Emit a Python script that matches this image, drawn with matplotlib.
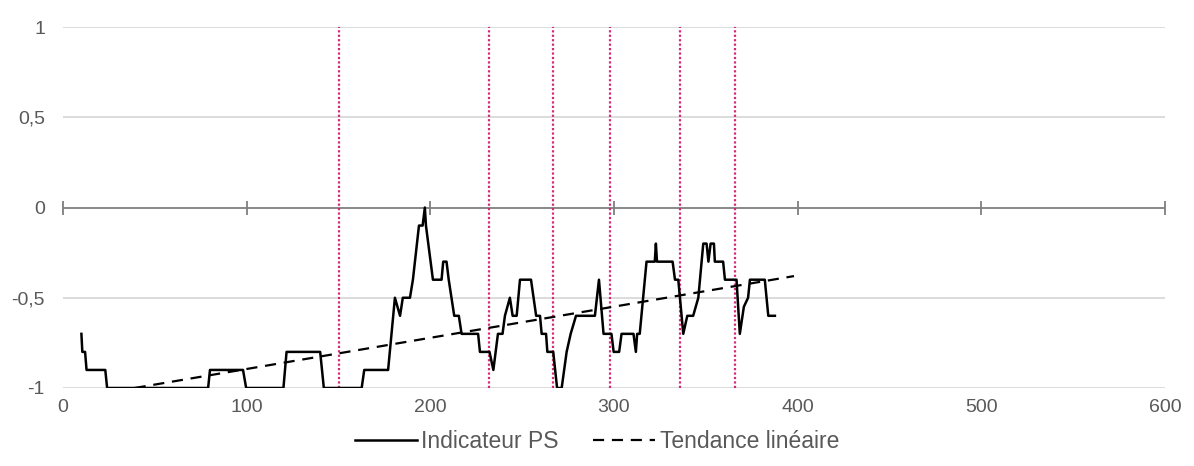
import matplotlib
matplotlib.use("Agg")
import matplotlib.pyplot as plt
from matplotlib.ticker import FuncFormatter

plt.rcParams['font.family'] = ['Liberation Sans', 'DejaVu Sans']

# PS indicator (vertices of the line)
ps_x = [10, 10.5, 12, 12.8, 23, 24, 79, 80, 98, 99.7, 120, 121.7, 140, 142,
        162.6, 164, 177, 180.7, 183.5, 185, 188.9, 190.5, 193.8, 195.8, 197, 197.6,
        201.4, 206.1, 207, 208.8, 210, 213, 215.5, 217, 226, 227, 232.2, 234.3,
        236.8, 239.3, 240.6, 243.3, 244.8, 247, 248.8, 254.8, 257.6, 259.7, 260.6,
        263, 263.7, 266.9, 269, 271.5, 274.2, 276.4, 279.3, 289.6, 291.8, 294.3,
        298.6, 299.8, 302.8, 304.1, 310.6, 311.9, 312.6, 314, 317.7, 322.2, 322.8,
        323.4, 331.9, 333.2, 335, 337.7, 339.9, 343.1, 345.9, 348.6, 350.4, 351.4,
        352.6, 354.4, 354.9, 359.4, 360.4, 366.7, 368.5, 370.7, 373, 374, 382.1,
        384, 387.6]
ps_y = [-0.7, -0.8, -0.8, -0.9, -0.9, -1.0, -1.0, -0.9, -0.9, -1.0, -1.0, -0.8, -0.8, -1.0,
        -1.0, -0.9, -0.9, -0.5, -0.6, -0.5, -0.5, -0.4, -0.1, -0.1, 0.0, -0.1,
        -0.4, -0.4, -0.3, -0.3, -0.4, -0.6, -0.6, -0.7, -0.7, -0.8, -0.8, -0.9,
        -0.7, -0.7, -0.6, -0.5, -0.6, -0.6, -0.4, -0.4, -0.6, -0.6, -0.7,
        -0.7, -0.8, -0.8, -1.0, -1.0, -0.8, -0.7, -0.6, -0.6, -0.4, -0.7,
        -0.7, -0.8, -0.8, -0.7, -0.7, -0.8, -0.7, -0.7, -0.3, -0.3, -0.2,
        -0.3, -0.3, -0.4, -0.4, -0.7, -0.6, -0.6, -0.5, -0.2, -0.2, -0.3,
        -0.2, -0.2, -0.3, -0.3, -0.4, -0.4, -0.7, -0.55, -0.5, -0.4, -0.4,
        -0.6, -0.6]

# linear trend endpoints
trend_x = [39, 398]
trend_y = [-1.0, -0.38]

# vertical markers
events = [150, 232, 267, 298, 336, 366]

xticks = [0, 100, 200, 300, 400, 500, 600]
yticks = [-1, -0.5, 0, 0.5, 1]

txt = '#595959'

fig = plt.figure(figsize=(11.94, 4.66), dpi=100)
ax = fig.add_axes([0.0528, 0.1674, 0.9229, 0.7746])

ax.set_xlim(0, 600)
ax.set_ylim(-1, 1)

for y in [-1, -0.5, 0.5, 1]:
    ax.axhline(y, color='#d9d9d9', lw=1.3, zorder=0)
ax.axhline(0, color='#7f7f7f', lw=1.3, zorder=1)

for e in events:
    ax.axvline(e, color='#d6287a', lw=1.6, ls=(0, (1, 1)), zorder=2)

ax.plot(trend_x, trend_y, color='black', lw=1.6, ls=(0, (5, 3.5)), zorder=3,
        label='Tendance linéaire')
ax.plot(ps_x, ps_y, color='black', lw=1.8, zorder=4, label='Indicateur PS')

for s in ax.spines.values():
    s.set_visible(False)

ax.set_xticks(xticks)
ax.set_yticks(yticks)
ax.yaxis.set_major_formatter(FuncFormatter(lambda v, p: ('%g' % v).replace('.', ',')))
ax.tick_params(axis='both', length=0, labelsize=14, colors=txt)
ax.tick_params(axis='x', pad=8)
ax.tick_params(axis='y', pad=13)

# tick marks on the zero line
sec = ax.secondary_xaxis(0.5)
sec.set_xticks(xticks)
for s in sec.spines.values():
    s.set_visible(False)
sec.tick_params(direction='inout', length=10, width=1.3, color='#7f7f7f',
                labelbottom=False, labeltop=False)

handles, labels = ax.get_legend_handles_labels()
fig.legend(handles[::-1], labels[::-1], loc='center', bbox_to_anchor=(0.5, 0.052), ncol=2,
           frameon=False, fontsize=16.5, labelcolor=txt, handlelength=2.7, handletextpad=0.2,
           columnspacing=1.5)

fig.savefig('out.png', dpi=100)
